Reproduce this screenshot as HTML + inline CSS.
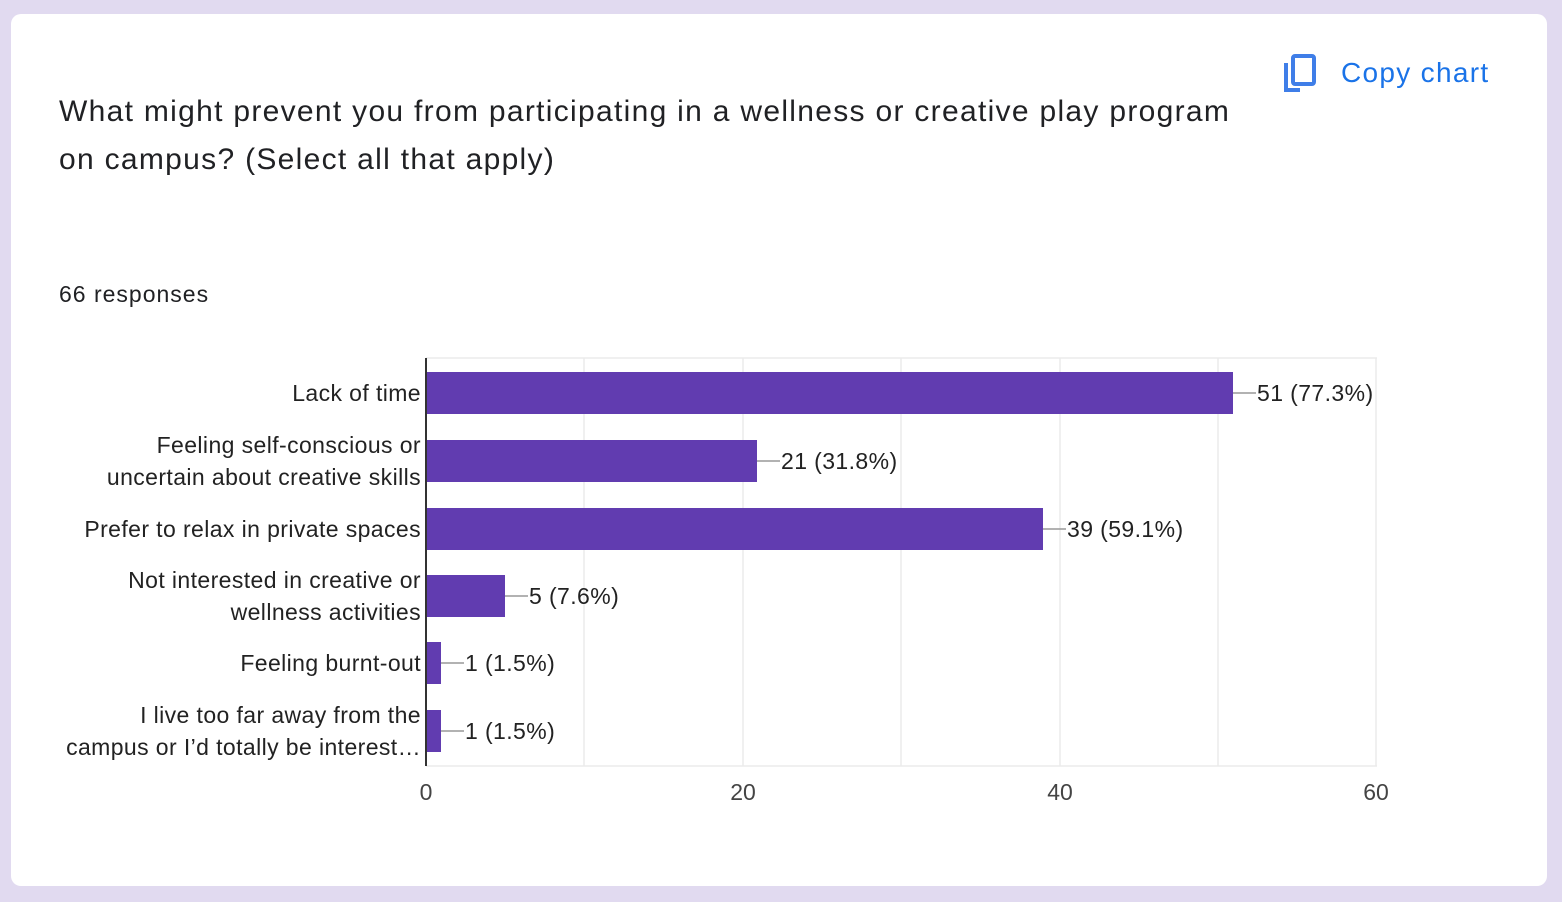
<!DOCTYPE html>
<html><head><meta charset="utf-8"><style>
body{margin:0;width:1562px;height:902px;background:#e1daf0;font-family:"Liberation Sans",Arial,sans-serif;overflow:hidden}
.card{position:absolute;left:11px;top:14px;width:1536px;height:872px;background:#fff;border-radius:10px}
.t{position:absolute;left:59px;top:88px;font-size:30px;letter-spacing:1.3px;line-height:48px;color:#202124;white-space:nowrap}
.r{position:absolute;left:59px;top:281px;font-size:23px;letter-spacing:1px;color:#202124}
.c{position:absolute;left:1341px;top:57px;font-size:28px;letter-spacing:1.3px;color:#1a73e8}
svg{position:absolute;left:0;top:0}
</style></head><body>
<div class="card"></div>
<div class="t">What might prevent you from participating in a wellness or creative play program<br>on campus? (Select all that apply)</div>
<div class="r">66 responses</div>
<div class="c">Copy chart</div>
<svg width="1562" height="902" font-family="Liberation Sans, Arial, sans-serif" font-size="23" letter-spacing="0.4" fill="#222">
<g fill="none" stroke="#3f7ee8" stroke-width="4">
<path d="M1286 63 V90 H1300"/>
<rect x="1293" y="56" width="21" height="28" rx="2"/>
</g>
<g stroke="#ebebeb" stroke-width="1.5">
<line x1="426" y1="358" x2="1377" y2="358"/>
<line x1="584" y1="358" x2="584" y2="766"/><line x1="743" y1="358" x2="743" y2="766"/>
<line x1="901" y1="358" x2="901" y2="766"/><line x1="1060" y1="358" x2="1060" y2="766"/>
<line x1="1218" y1="358" x2="1218" y2="766"/><line x1="1376" y1="358" x2="1376" y2="766"/>
<line x1="426" y1="766" x2="1377" y2="766"/>
</g>
<g fill="#613cb0">
<rect x="427" y="372" width="806" height="42"/>
<rect x="427" y="440" width="330" height="42"/>
<rect x="427" y="508" width="616" height="42"/>
<rect x="427" y="575" width="78" height="42"/>
<rect x="427" y="642" width="14" height="42"/>
<rect x="427" y="710" width="14" height="42"/>
</g>
<line x1="426" y1="358" x2="426" y2="766" stroke="#333" stroke-width="2"/>
<g stroke="#999" stroke-width="1.5">
<line x1="1233" y1="393" x2="1256" y2="393"/><line x1="757" y1="461" x2="780" y2="461"/>
<line x1="1043" y1="529" x2="1066" y2="529"/><line x1="505" y1="596" x2="528" y2="596"/>
<line x1="441" y1="663" x2="464" y2="663"/><line x1="441" y1="731" x2="464" y2="731"/>
</g>
<g>
<text x="1257" y="401">51 (77.3%)</text><text x="781" y="469">21 (31.8%)</text>
<text x="1067" y="537">39 (59.1%)</text><text x="529" y="604">5 (7.6%)</text>
<text x="465" y="671">1 (1.5%)</text><text x="465" y="739">1 (1.5%)</text>
</g>
<g text-anchor="end">
<text x="421" y="401">Lack of time</text>
<text x="421" y="453">Feeling self-conscious or</text><text x="421" y="485">uncertain about creative skills</text>
<text x="421" y="537">Prefer to relax in private spaces</text>
<text x="421" y="588">Not interested in creative or</text><text x="421" y="620">wellness activities</text>
<text x="421" y="671">Feeling burnt-out</text>
<text x="421" y="723">I live too far away from the</text><text x="421" y="755">campus or I’d totally be interest…</text>
</g>
<g text-anchor="middle" fill="#444" letter-spacing="0">
<text x="426" y="800">0</text><text x="743" y="800">20</text><text x="1060" y="800">40</text><text x="1376" y="800">60</text>
</g>
</svg>
</body></html>
